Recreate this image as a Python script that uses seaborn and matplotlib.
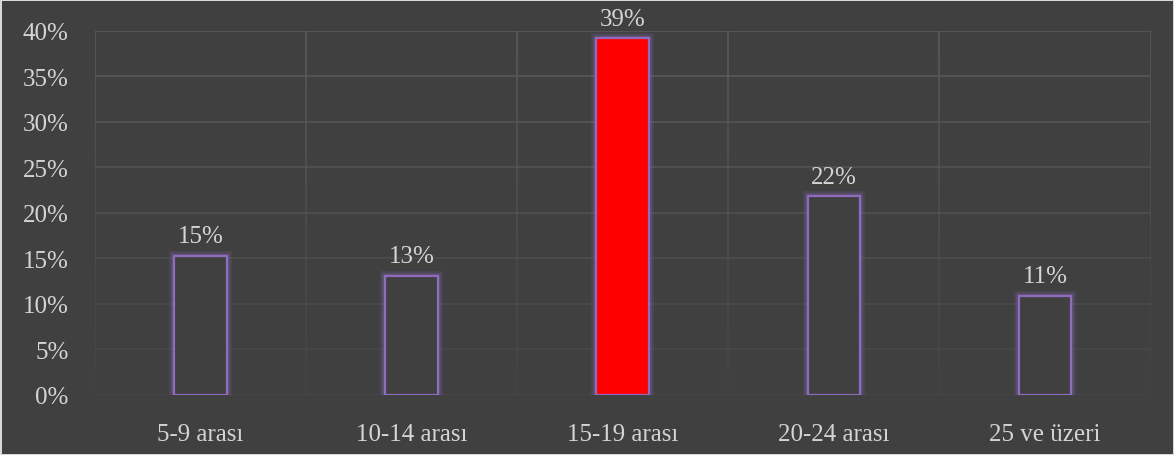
import numpy as np
import matplotlib
matplotlib.use('Agg')
import matplotlib.pyplot as plt
import matplotlib.patheffects as pe
import seaborn as sns

# ── Data ──────────────────────────────────────────────────────────────────────
CATEGORIES = ['5-9 arası', '10-14 arası', '15-19 arası', '20-24 arası', '25 ve üzeri']
VALUES     = [0.153, 0.131, 0.392, 0.218, 0.109]
LABELS     = ['15%', '13%', '39%', '22%', '11%']
Y_TICKS    = [0.0, 0.05, 0.10, 0.15, 0.20, 0.25, 0.30, 0.35, 0.40]

# ── Style ─────────────────────────────────────────────────────────────────────
BG       = '#404040'
TEXT     = '#d4d4d4'
GRID     = '#5a5a5a'
EDGE     = '#8f6cc0'
HILITE   = '#ff0000'

sns.set_theme(style='dark')
plt.rcParams['font.family'] = ['Liberation Serif', 'DejaVu Serif']

fig = plt.figure(figsize=(11.74, 4.56), dpi=100)
fig.patch.set_facecolor(BG)
fig.patch.set_edgecolor('#d9d9d9')
fig.patch.set_linewidth(2)
ax = fig.add_axes([0.081, 0.132, 0.899, 0.798])
ax.set_facecolor(BG)

palette = [HILITE if v == max(VALUES) else BG for v in VALUES]
sns.barplot(x=CATEGORIES, y=VALUES, hue=CATEGORIES, palette=palette,
            legend=False, width=0.25, saturation=1, ax=ax, zorder=3)

glow = [pe.Stroke(linewidth=7, foreground=EDGE, alpha=0.15),
        pe.Stroke(linewidth=4, foreground=EDGE, alpha=0.25),
        pe.Normal()]
for p in ax.patches:
    p.set_edgecolor(EDGE)
    p.set_linewidth(1.6)
    p.set_path_effects(glow)

# value labels
for i, (v, lab) in enumerate(zip(VALUES, LABELS)):
    ax.annotate(lab, (i, v), xytext=(0, 6), textcoords='offset points',
                ha='center', va='bottom', fontsize=18, color=TEXT, zorder=4)

# axes
ax.set_ylim(0, 0.4)
ax.set_xlim(-0.5, len(CATEGORIES) - 0.5)
ax.set_yticks(Y_TICKS)
ax.set_yticklabels([f'{int(round(t * 100))}%' for t in Y_TICKS])
ax.tick_params(axis='y', length=0, pad=19, labelsize=18, labelcolor=TEXT)
ax.tick_params(axis='x', length=0, pad=20, labelsize=18, labelcolor=TEXT)
ax.grid(False)
for s in ax.spines.values():
    s.set_visible(False)

# fading gridlines (brighter at top)
for t in Y_TICKS:
    ax.axhline(t, color=GRID, lw=1.2, alpha=min(1.0, 0.2 + 0.8 * t / 0.4), zorder=1)
bounds = np.arange(len(CATEGORIES) + 1) - 0.5
steps = 30
for k in range(steps):
    y0 = 0.4 * k / steps
    y1 = 0.4 * (k + 1) / steps
    ax.vlines(bounds, y0, y1, color=GRID, lw=1.2, alpha=min(1.0, 0.1 + 0.9 * k / steps), zorder=1)

ax.set_xlabel('')
ax.set_ylabel('')
plt.savefig('out.png', dpi=100, facecolor=fig.get_facecolor(), edgecolor=fig.get_edgecolor())
